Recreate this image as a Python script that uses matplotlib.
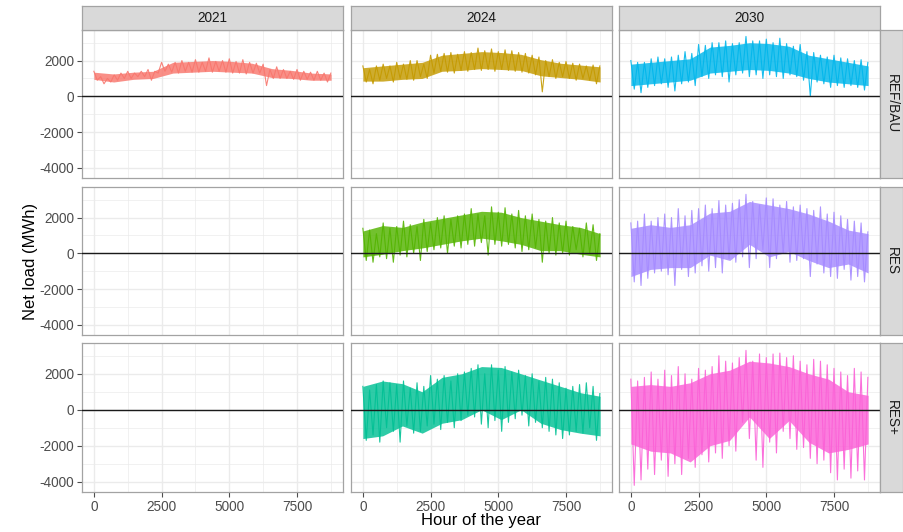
"""
Net load per hour of the year, faceted by year (columns) and scenario (rows).
Each series is stored as read-off peaks (every 250 h) and troughs (offset 125 h),
plus a monthly "core" band where the hourly trace is densest.
"""

import matplotlib
matplotlib.use("Agg")
import matplotlib.pyplot as plt
import numpy as np

plt.rcParams["axes.unicode_minus"] = False

# ---------------------------------------------------------------------------
# Data
# ---------------------------------------------------------------------------

YEARS = ["2021", "2024", "2030"]
SCENARIOS = ["REF/BAU", "RES", "RES+"]

X_TICKS = [0, 2500, 5000, 7500]
Y_TICKS = [-4000, -2000, 0, 2000]

# sample hours: peaks at 0, 250, ... 8750; troughs at 125, 375, ... 8625
SAMPLE_HOURS = np.arange(0, 8751, 125)
# monthly hours for the dense core band
CORE_HOURS = [0, 730, 1460, 2190, 2920, 3650, 4380, 5110, 5840, 6570, 7300, 8030, 8760]

REF_2021_HI = [1400, 1100, 1000, 1200, 1300, 1400, 1300, 1400, 1500, 1400,
               1900, 1800, 1900, 2000, 1900, 2050, 1900, 2150, 1950, 2000,
               2100, 1950, 2050, 1900, 1850, 1800, 1500, 1650, 1500, 1400,
               1500, 1400, 1350, 1400, 1300, 1300]
REF_2021_LO = [900, 700, 800, 900, 1000, 1000, 1100, 1100, 900, 1300,
               1400, 1350, 1300, 1400, 1350, 1350, 1400, 1350, 1400, 1350,
               1300, 1300, 1250, 1300, 1300, 600, 1000, 1000, 1000, 950,
               900, 950, 900, 900, 800]
REF_2021_CORE_HI = [1350, 1250, 1350, 1400, 1900, 1950, 2000, 1950, 1850, 1550, 1450, 1300, 1250]
REF_2021_CORE_LO = [950, 800, 950, 1000, 1300, 1350, 1400, 1350, 1300, 1050, 1000, 900, 900]

REF_2024_HI = [1700, 1500, 1700, 1800, 1700, 1900, 1800, 2000, 2000, 1800,
               2300, 2350, 2400, 2450, 2350, 2500, 2450, 2700, 2550, 2650,
               2500, 2600, 2550, 2450, 2400, 2300, 2200, 2000, 2050, 1900,
               1950, 1850, 1800, 1700, 1750, 1700]
REF_2024_LO = [800, 700, 900, 1000, 800, 1000, 950, 900, 1100, 1000,
               1300, 1400, 1350, 1300, 1450, 1400, 1500, 1450, 1500, 1400,
               1500, 1450, 1400, 1350, 1300, 1200, 250, 1100, 1000, 1100,
               1000, 900, 1000, 900, 700]
REF_2024_CORE_HI = [1600, 1700, 1800, 1900, 2300, 2400, 2500, 2450, 2350, 2050, 1850, 1750, 1650]
REF_2024_CORE_LO = [850, 850, 950, 1000, 1400, 1450, 1550, 1500, 1450, 1150, 1050, 950, 800]

REF_2030_HI = [2000, 1900, 1900, 2100, 2200, 2100, 2200, 2300, 2500, 2400,
               2900, 2850, 3000, 3000, 3100, 2950, 3000, 3350, 3100, 3100,
               3200, 3000, 3250, 2950, 2800, 2900, 2500, 2450, 2300, 2200,
               2300, 2150, 2100, 2000, 2050, 1900]
REF_2030_LO = [400, 200, 500, 600, 700, 500, 300, 700, 800, 600,
               1100, 1000, 1200, 1100, 800, 1200, 1300, 1100, 1200, 1000,
               1200, 1100, 1000, 1200, 1100, 900, 0, 800, 700, 500,
               600, 500, 600, 500, 350]
REF_2030_CORE_HI = [1800, 1900, 2000, 2100, 2750, 2850, 3000, 2950, 2800, 2300, 2100, 1900, 1700]
REF_2030_CORE_LO = [600, 700, 800, 900, 1300, 1400, 1500, 1450, 1300, 1000, 800, 700, 600]

RES_2024_HI = [1400, 1300, 1100, 1700, 1400, 1500, 1800, 1600, 1500, 1900,
               1700, 2000, 2100, 1900, 2100, 2200, 2500, 2200, 2100, 2600,
               2300, 2550, 2200, 2400, 2100, 2200, 1900, 1800, 2000, 1700,
               1800, 1500, 1400, 1700, 1600, 1100]
RES_2024_LO = [-400, -500, -200, -300, -500, -100, -200, 0, -400, 100,
               200, 300, 0, 400, 300, 500, 400, 600, -100, 500,
               400, 500, 300, 100, 200, 300, -500, 0, -100, 0,
               -100, 200, -200, 0, -400]
RES_2024_CORE_HI = [1250, 1550, 1450, 1750, 1950, 2150, 2350, 2300, 2000, 1800, 1600, 1450, 1100]
RES_2024_CORE_LO = [-200, -50, 150, 300, 500, 700, 850, 700, 500, 150, 150, -50, -200]

RES_2030_HI = [1700, 1800, 2200, 1800, 2000, 2200, 2000, 2500, 2100, 2400,
               2500, 2700, 2500, 2950, 2700, 2800, 3000, 3300, 2900, 2700,
               3100, 3050, 2700, 2900, 2600, 2700, 2500, 2400, 2600, 2200,
               2300, 2100, 1900, 1800, 1700, 1200]
RES_2030_LO = [-1600, -1800, -1400, -1100, -1000, -1200, -1800, -900, -1300, -1100,
               -700, -1000, -800, -1100, -300, -500, -200, -800, -300, 200,
               -800, -300, 0, -500, -400, -300, -1300, -600, -1100, -1300,
               -1400, -900, -1500, -1300, -1600]
RES_2030_CORE_HI = [1400, 1600, 1450, 1600, 2250, 2350, 2900, 2700, 2500, 2200, 1800, 1300, 1100]
RES_2030_CORE_LO = [-1300, -900, -800, -800, -100, -400, 500, -200, 100, -400, -800, -600, -1100]

RESP_2024_HI = [1300, 1100, 1400, 1600, 1500, 1400, 1600, 1200, 1500, 1300,
                1900, 1700, 1900, 1600, 2000, 2100, 2300, 2500, 2000, 2500,
                2200, 2400, 2100, 2200, 1900, 2000, 1600, 1800, 1700, 1500,
                1200, 1300, 1400, 1500, 1300, 900]
RESP_2024_LO = [-1700, -1400, -1800, -1000, -1200, -1800, -900, -1300, -1200, -900,
                -800, -1100, -700, -1000, -600, -300, -400, -800, -1000, -600,
                -1200, -700, -500, -300, -900, -700, -1000, -1200, -1400, -1600,
                -1400, -1200, -1300, -1000, -1700]
RESP_2024_CORE_HI = [1300, 1600, 1450, 1000, 1800, 2000, 2400, 2350, 2000, 1650, 1300, 950, 750]
RESP_2024_CORE_LO = [-1600, -1450, -900, -1300, -750, -550, 0, -550, 0, -750, -1100, -1300, -1450]

RESP_2030_HI = [1700, 1600, 1800, 2100, 1700, 2200, 1900, 2400, 2000, 1700,
                2300, 2200, 2400, 3000, 2700, 2600, 2900, 3300, 2700, 3100,
                2900, 3100, 3150, 2900, 3000, 2700, 2500, 2800, 2700, 2500,
                2300, 2100, 1900, 2300, 2100, 1800]
RESP_2030_LO = [-4200, -3900, -3300, -3600, -2800, -3700, -3000, -3600, -2700, -3200,
                -2500, -2900, -2400, -2700, -2000, -2300, -700, -1600, -2800, -3200,
                -1800, -2400, -1200, -1600, -2200, -2100, -2700, -3000, -2800, -3500,
                -3900, -3300, -3800, -3400, -3900]
RESP_2030_CORE_HI = [1300, 1400, 1300, 1500, 2000, 2200, 2700, 2600, 2400, 2000, 1700, 1000, 800]
RESP_2030_CORE_LO = [-1900, -2300, -2400, -2900, -2000, -1700, -400, -1600, -600, -1800, -2400, -2200, -1900]

# (scenario, year) -> (peaks, troughs, core top, core bottom); missing combos are drawn empty
SERIES = {
    ("REF/BAU", "2021"): (REF_2021_HI, REF_2021_LO, REF_2021_CORE_HI, REF_2021_CORE_LO),
    ("REF/BAU", "2024"): (REF_2024_HI, REF_2024_LO, REF_2024_CORE_HI, REF_2024_CORE_LO),
    ("REF/BAU", "2030"): (REF_2030_HI, REF_2030_LO, REF_2030_CORE_HI, REF_2030_CORE_LO),
    ("RES", "2024"):     (RES_2024_HI, RES_2024_LO, RES_2024_CORE_HI, RES_2024_CORE_LO),
    ("RES", "2030"):     (RES_2030_HI, RES_2030_LO, RES_2030_CORE_HI, RES_2030_CORE_LO),
    ("RES+", "2024"):    (RESP_2024_HI, RESP_2024_LO, RESP_2024_CORE_HI, RESP_2024_CORE_LO),
    ("RES+", "2030"):    (RESP_2030_HI, RESP_2030_LO, RESP_2030_CORE_HI, RESP_2030_CORE_LO),
}

# ggplot default hue palette, in facet order
COLORS = {
    ("REF/BAU", "2021"): "#F8766D",
    ("REF/BAU", "2024"): "#C49A00",
    ("RES", "2024"):     "#53B400",
    ("RES+", "2024"):    "#00C094",
    ("REF/BAU", "2030"): "#00B6EB",
    ("RES", "2030"):     "#A58AFF",
    ("RES+", "2030"):    "#FB61D7",
}

# ---------------------------------------------------------------------------
# Layout (pixels of a 904 x 532 canvas)
# ---------------------------------------------------------------------------

W, H = 904, 532
COL_X = [(82, 343), (351, 612), (619, 880)]
ROW_Y = [(30, 178), (187, 335), (343, 492)]
TOP_STRIP = (6, 30)
RIGHT_STRIP = (880, 903)

BORDER = "#A3A3A3"
GRID = "#EBEBEB"
STRIP_BG = "#D9D9D9"
FONT = "Liberation Sans"


def _rect(x0, x1, y0, y1):
    return [x0 / W, 1 - y1 / H, (x1 - x0) / W, (y1 - y0) / H]


def zigzag(hi, lo):
    assert len(hi) == len(lo) + 1
    y = np.empty(len(hi) + len(lo))
    y[0::2] = hi
    y[1::2] = lo
    return y


def _strip(fig, rect, text, rotation=0):
    sax = fig.add_axes(rect)
    sax.set_facecolor(STRIP_BG)
    sax.set_xticks([])
    sax.set_yticks([])
    for sp in sax.spines.values():
        sp.set_color(BORDER)
        sp.set_linewidth(0.9)
    sax.text(0.5, 0.5, text, transform=sax.transAxes, ha="center", va="center",
             rotation=rotation, fontsize=9.8, color="#1A1A1A", family=FONT)


def main() -> None:
    fig = plt.figure(figsize=(W / 100, H / 100), dpi=100)

    for r, scen in enumerate(SCENARIOS):
        for c, year in enumerate(YEARS):
            ax = fig.add_axes(_rect(*COL_X[c], *ROW_Y[r]))
            ax.set_xlim(-438, 9198)
            ax.set_ylim(-4570, 3710)
            ax.set_xticks(X_TICKS)
            ax.set_yticks(Y_TICKS)
            ax.set_xticks([1250, 3750, 6250, 8750], minor=True)
            ax.set_yticks([-3000, -1000, 1000, 3000], minor=True)
            ax.grid(True, which="major", color=GRID, linewidth=1.0, zorder=0)
            ax.grid(True, which="minor", color=GRID, linewidth=0.5, zorder=0)
            ax.set_axisbelow(True)
            for sp in ax.spines.values():
                sp.set_color(BORDER)
                sp.set_linewidth(0.9)
            ax.tick_params(which="minor", length=0)
            ax.tick_params(which="major", length=3.5, width=0.8, color="#4D4D4D",
                           labelsize=9.8, labelcolor="#4D4D4D", pad=2)
            for lbl in ax.get_xticklabels() + ax.get_yticklabels():
                lbl.set_family(FONT)
            if c > 0:
                ax.tick_params(axis="y", length=0, labelleft=False)
            if r < len(SCENARIOS) - 1:
                ax.tick_params(axis="x", length=0, labelbottom=False)

            key = (scen, year)
            if key in SERIES:
                hi, lo, core_hi, core_lo = SERIES[key]
                col = COLORS[key]
                ax.fill_between(CORE_HOURS, core_lo, core_hi, color=col,
                                alpha=0.82, linewidth=0, zorder=2)
                ax.plot(SAMPLE_HOURS, zigzag(hi, lo), color=col,
                        linewidth=0.8, alpha=0.9, zorder=2)
            ax.axhline(0, color="#1A1A1A", linewidth=1.0, zorder=3)

            if r == 0:
                _strip(fig, _rect(*COL_X[c], *TOP_STRIP), year)
        _strip(fig, _rect(*RIGHT_STRIP, *ROW_Y[r]), scen, rotation=-90)

    fig.text(481 / W, 1 - 520 / H, "Hour of the year", ha="center", va="center",
             fontsize=12, family=FONT)
    fig.text(30 / W, 1 - 261 / H, "Net load (MWh)", ha="center", va="center",
             rotation=90, fontsize=12, family=FONT)

    fig.savefig("out.png", dpi=100)
    plt.close(fig)


if __name__ == "__main__":
    main()
